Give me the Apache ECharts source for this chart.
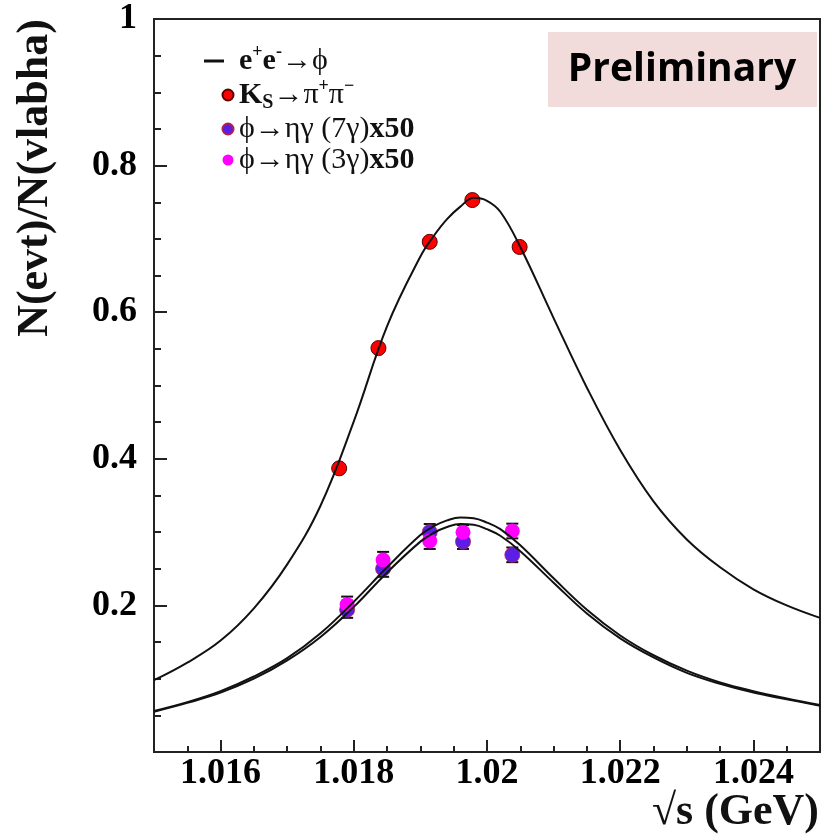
<!DOCTYPE html>
<html>
<head>
<meta charset="utf-8">
<script src="https://cdn.jsdelivr.net/npm/echarts@6/dist/echarts.min.js"></script>
<style>
  html, body { margin: 0; padding: 0; background: #fff; }
  #main { width: 822px; height: 839px; }
</style>
</head>
<body>
<div id="main"></div>
<script>
// fit curves
const curveX = [1.015, 1.0155, 1.016, 1.0165, 1.017, 1.0175, 1.018, 1.0185, 1.019, 1.0192, 1.0194, 1.0196,
  1.0198, 1.020, 1.0202, 1.0205, 1.021, 1.0215, 1.022, 1.0225, 1.023, 1.0235, 1.024, 1.0245, 1.025]
const fitKs = [0.098, 0.122, 0.152, 0.196, 0.256, 0.336, 0.451, 0.581, 0.676, 0.704, 0.727, 0.744,
  0.756, 0.752, 0.737, 0.689, 0.592, 0.497, 0.412, 0.342, 0.290, 0.252, 0.222, 0.200, 0.183]
const fitEta7 = [0.056, 0.068, 0.083, 0.103, 0.128, 0.162, 0.205, 0.252, 0.296, 0.308, 0.316, 0.320,
  0.319, 0.313, 0.304, 0.282, 0.237, 0.194, 0.159, 0.132, 0.111, 0.095, 0.083, 0.073, 0.064]
const fitEta3 = [0.055, 0.067, 0.081, 0.100, 0.125, 0.157, 0.198, 0.245, 0.287, 0.299, 0.307, 0.311,
  0.310, 0.304, 0.295, 0.274, 0.231, 0.189, 0.155, 0.129, 0.108, 0.093, 0.081, 0.072, 0.063]

// K_S -> pi+ pi-
const ksX = [1.01778, 1.01837, 1.01914, 1.01978, 1.02049]
const ksY = [0.387, 0.551, 0.696, 0.753, 0.689]

// phi -> eta gamma (x50)
const etaX = [1.0179, 1.01844, 1.01914, 1.01964, 1.02038]
const eta7Y = [0.194, 0.250, 0.300, 0.287, 0.269]
const eta7Err = [0.011, 0.011, 0.011, 0.010, 0.010]
const eta3Y = [0.201, 0.262, 0.288, 0.2997, 0.3015]
const eta3Err = [0.011, 0.011, 0.011, 0.010, 0.010]

const yTicks = [0.2, 0.4, 0.6, 0.8, 1]
const xTicks = [1.016, 1.018, 1.02, 1.022, 1.024]

const serif = 'Liberation Serif'
const zip = (xs, ys) => xs.map((x, i) => [x, ys[i]])

// legend icons: a short bar, and a dot sitting to the right of the box
const lineIcon = 'path://M0,0 M0,5.5 L20,5.5 L20,8.5 L0,8.5 Z M30,14'
const dotIcon = 'path://M0,0 M18.5,7 A5.5,5.5 0 1 1 29.5,7 A5.5,5.5 0 1 1 18.5,7 Z M30,14'

const legendText = {
  'e+e-→ϕ': '{b|e}{sp|+}{b|e}{sp|-}{n|→ϕ}',
  'KS→π+π−': '{b|K}{sb|S}{n|→π}{sp|+}{n|π}{sp|−}',
  'ϕ→ηγ (7γ)x50': '{n|ϕ→ηγ (7γ)}{b|x50}',
  'ϕ→ηγ (3γ)x50': '{n|ϕ→ηγ (3γ)}{b|x50}'
}

function errorBars (xs, ys, errs) {
  return {
    type: 'custom',
    silent: true,
    data: xs.map((x, i) => [x, ys[i], errs[i]]),
    renderItem: function (params, api) {
      const top = api.coord([api.value(0), api.value(1) + api.value(2)])
      const bot = api.coord([api.value(0), api.value(1) - api.value(2)])
      const st = { stroke: '#111', lineWidth: 2 }
      return {
        type: 'group',
        children: [
          { type: 'line', shape: { x1: top[0], y1: top[1], x2: bot[0], y2: bot[1] }, style: st },
          { type: 'line', shape: { x1: top[0] - 6, y1: top[1], x2: top[0] + 6, y2: top[1] }, style: st },
          { type: 'line', shape: { x1: bot[0] - 6, y1: bot[1], x2: bot[0] + 6, y2: bot[1] }, style: st }
        ]
      }
    }
  }
}

const chart = echarts.init(document.getElementById('main'))
chart.setOption({
  animation: false,
  backgroundColor: '#fff',
  grid: {
    left: 154, right: 2, top: 19, bottom: 87,
    show: true, borderColor: '#222', borderWidth: 2, backgroundColor: 'transparent'
  },
  xAxis: {
    type: 'value',
    min: 1.015,
    max: 1.025,
    splitNumber: 5,
    axisLine: { lineStyle: { color: '#222', width: 2 } },
    axisTick: { inside: true, length: 12, lineStyle: { color: '#222', width: 2 } },
    minorTick: { show: true, splitNumber: 4, length: 6, lineStyle: { color: '#222', width: 2 } },
    splitLine: { show: false },
    axisLabel: {
      margin: 4,
      color: '#000',
      fontFamily: serif,
      fontWeight: 'bold',
      fontSize: 36,
      showMinLabel: false,
      showMaxLabel: false,
      formatter: v => xTicks.some(t => Math.abs(t - v) < 1e-9) ? String(+v.toFixed(3)) : ''
    }
  },
  yAxis: {
    type: 'value',
    min: 0,
    max: 1,
    interval: 0.2,
    axisLine: { lineStyle: { color: '#222', width: 2 } },
    axisTick: { inside: true, length: 13, lineStyle: { color: '#222', width: 2 } },
    minorTick: { show: true, splitNumber: 4, length: 7, lineStyle: { color: '#222', width: 2 } },
    splitLine: { show: false },
    axisLabel: {
      margin: 17,
      color: '#000',
      fontFamily: serif,
      fontWeight: 'bold',
      fontSize: 36,
      formatter: v => yTicks.some(t => Math.abs(t - v) < 1e-9) ? String(+v.toFixed(1)) : ''
    }
  },
  legend: {
    orient: 'vertical',
    left: 198,
    top: 38,
    itemWidth: 30,
    itemHeight: 14,
    itemGap: 1,
    itemTextGap: 14,
    selectedMode: false,
    data: [
      { name: 'e+e-→ϕ', icon: lineIcon },
      { name: 'KS→π+π−', icon: dotIcon },
      { name: 'ϕ→ηγ (7γ)x50', icon: dotIcon },
      { name: 'ϕ→ηγ (3γ)x50', icon: dotIcon }
    ],
    formatter: name => legendText[name],
    textStyle: {
      color: '#111',
      fontFamily: serif,
      fontSize: 30,
      rich: {
        b: { fontFamily: serif, fontWeight: 'bold', fontSize: 30, lineHeight: 36, color: '#111' },
        n: { fontFamily: serif, fontWeight: 'normal', fontSize: 30, lineHeight: 36, color: '#111' },
        sp: { fontFamily: serif, fontWeight: 'bold', fontSize: 18, lineHeight: 16, verticalAlign: 'top', color: '#111' },
        sb: { fontFamily: serif, fontWeight: 'bold', fontSize: 20, lineHeight: 16, verticalAlign: 'bottom', color: '#111' }
      }
    }
  },
  graphic: [
    {
      type: 'text',
      x: 36, y: 178,
      rotation: Math.PI / 2,
      style: {
        text: 'N(evt)/N(vlabha)',
        font: 'bold 44px "Liberation Serif"',
        fill: '#111',
        align: 'center',
        verticalAlign: 'middle'
      }
    },
    {
      type: 'text',
      x: 819, y: 813,
      style: {
        text: '√s (GeV)',
        font: 'bold 44px "Liberation Serif"',
        fill: '#111',
        align: 'right',
        verticalAlign: 'middle'
      }
    },
    {
      type: 'rect',
      z: 100,
      shape: { x: 548, y: 32, width: 269, height: 75 },
      style: { fill: '#f2dcdb' }
    },
    {
      type: 'text',
      z: 101,
      x: 682, y: 70,
      style: {
        text: 'Preliminary',
        font: 'bold 39px "Open Sans"',
        fill: '#000',
        align: 'center',
        verticalAlign: 'middle'
      }
    }
  ],
  series: [
    {
      name: 'e+e-→ϕ',
      type: 'line',
      smooth: 0.4,
      showSymbol: false,
      data: zip(curveX, fitKs),
      lineStyle: { color: '#111', width: 2 },
      itemStyle: { color: '#111' }
    },
    {
      name: 'fit 7γ',
      type: 'line',
      smooth: 0.4,
      showSymbol: false,
      data: zip(curveX, fitEta7),
      lineStyle: { color: '#111', width: 2 }
    },
    {
      name: 'fit 3γ',
      type: 'line',
      smooth: 0.4,
      showSymbol: false,
      data: zip(curveX, fitEta3),
      lineStyle: { color: '#111', width: 2 }
    },
    errorBars(etaX, eta7Y, eta7Err),
    errorBars(etaX, eta3Y, eta3Err),
    {
      name: 'ϕ→ηγ (7γ)x50',
      type: 'scatter',
      symbolSize: 15,
      data: zip(etaX, eta7Y),
      itemStyle: { color: '#5a1ee6', borderColor: '#b0204a', borderWidth: 0.8, opacity: 1 }
    },
    {
      name: 'ϕ→ηγ (3γ)x50',
      type: 'scatter',
      symbolSize: 15,
      data: zip(etaX, eta3Y),
      itemStyle: { color: '#ff00ff', opacity: 1 }
    },
    {
      name: 'KS→π+π−',
      type: 'scatter',
      symbolSize: 15,
      data: zip(ksX, ksY),
      itemStyle: { color: '#ff0000', borderColor: '#5a0000', borderWidth: 1, opacity: 1 }
    }
  ]
})
</script>
</body>
</html>
